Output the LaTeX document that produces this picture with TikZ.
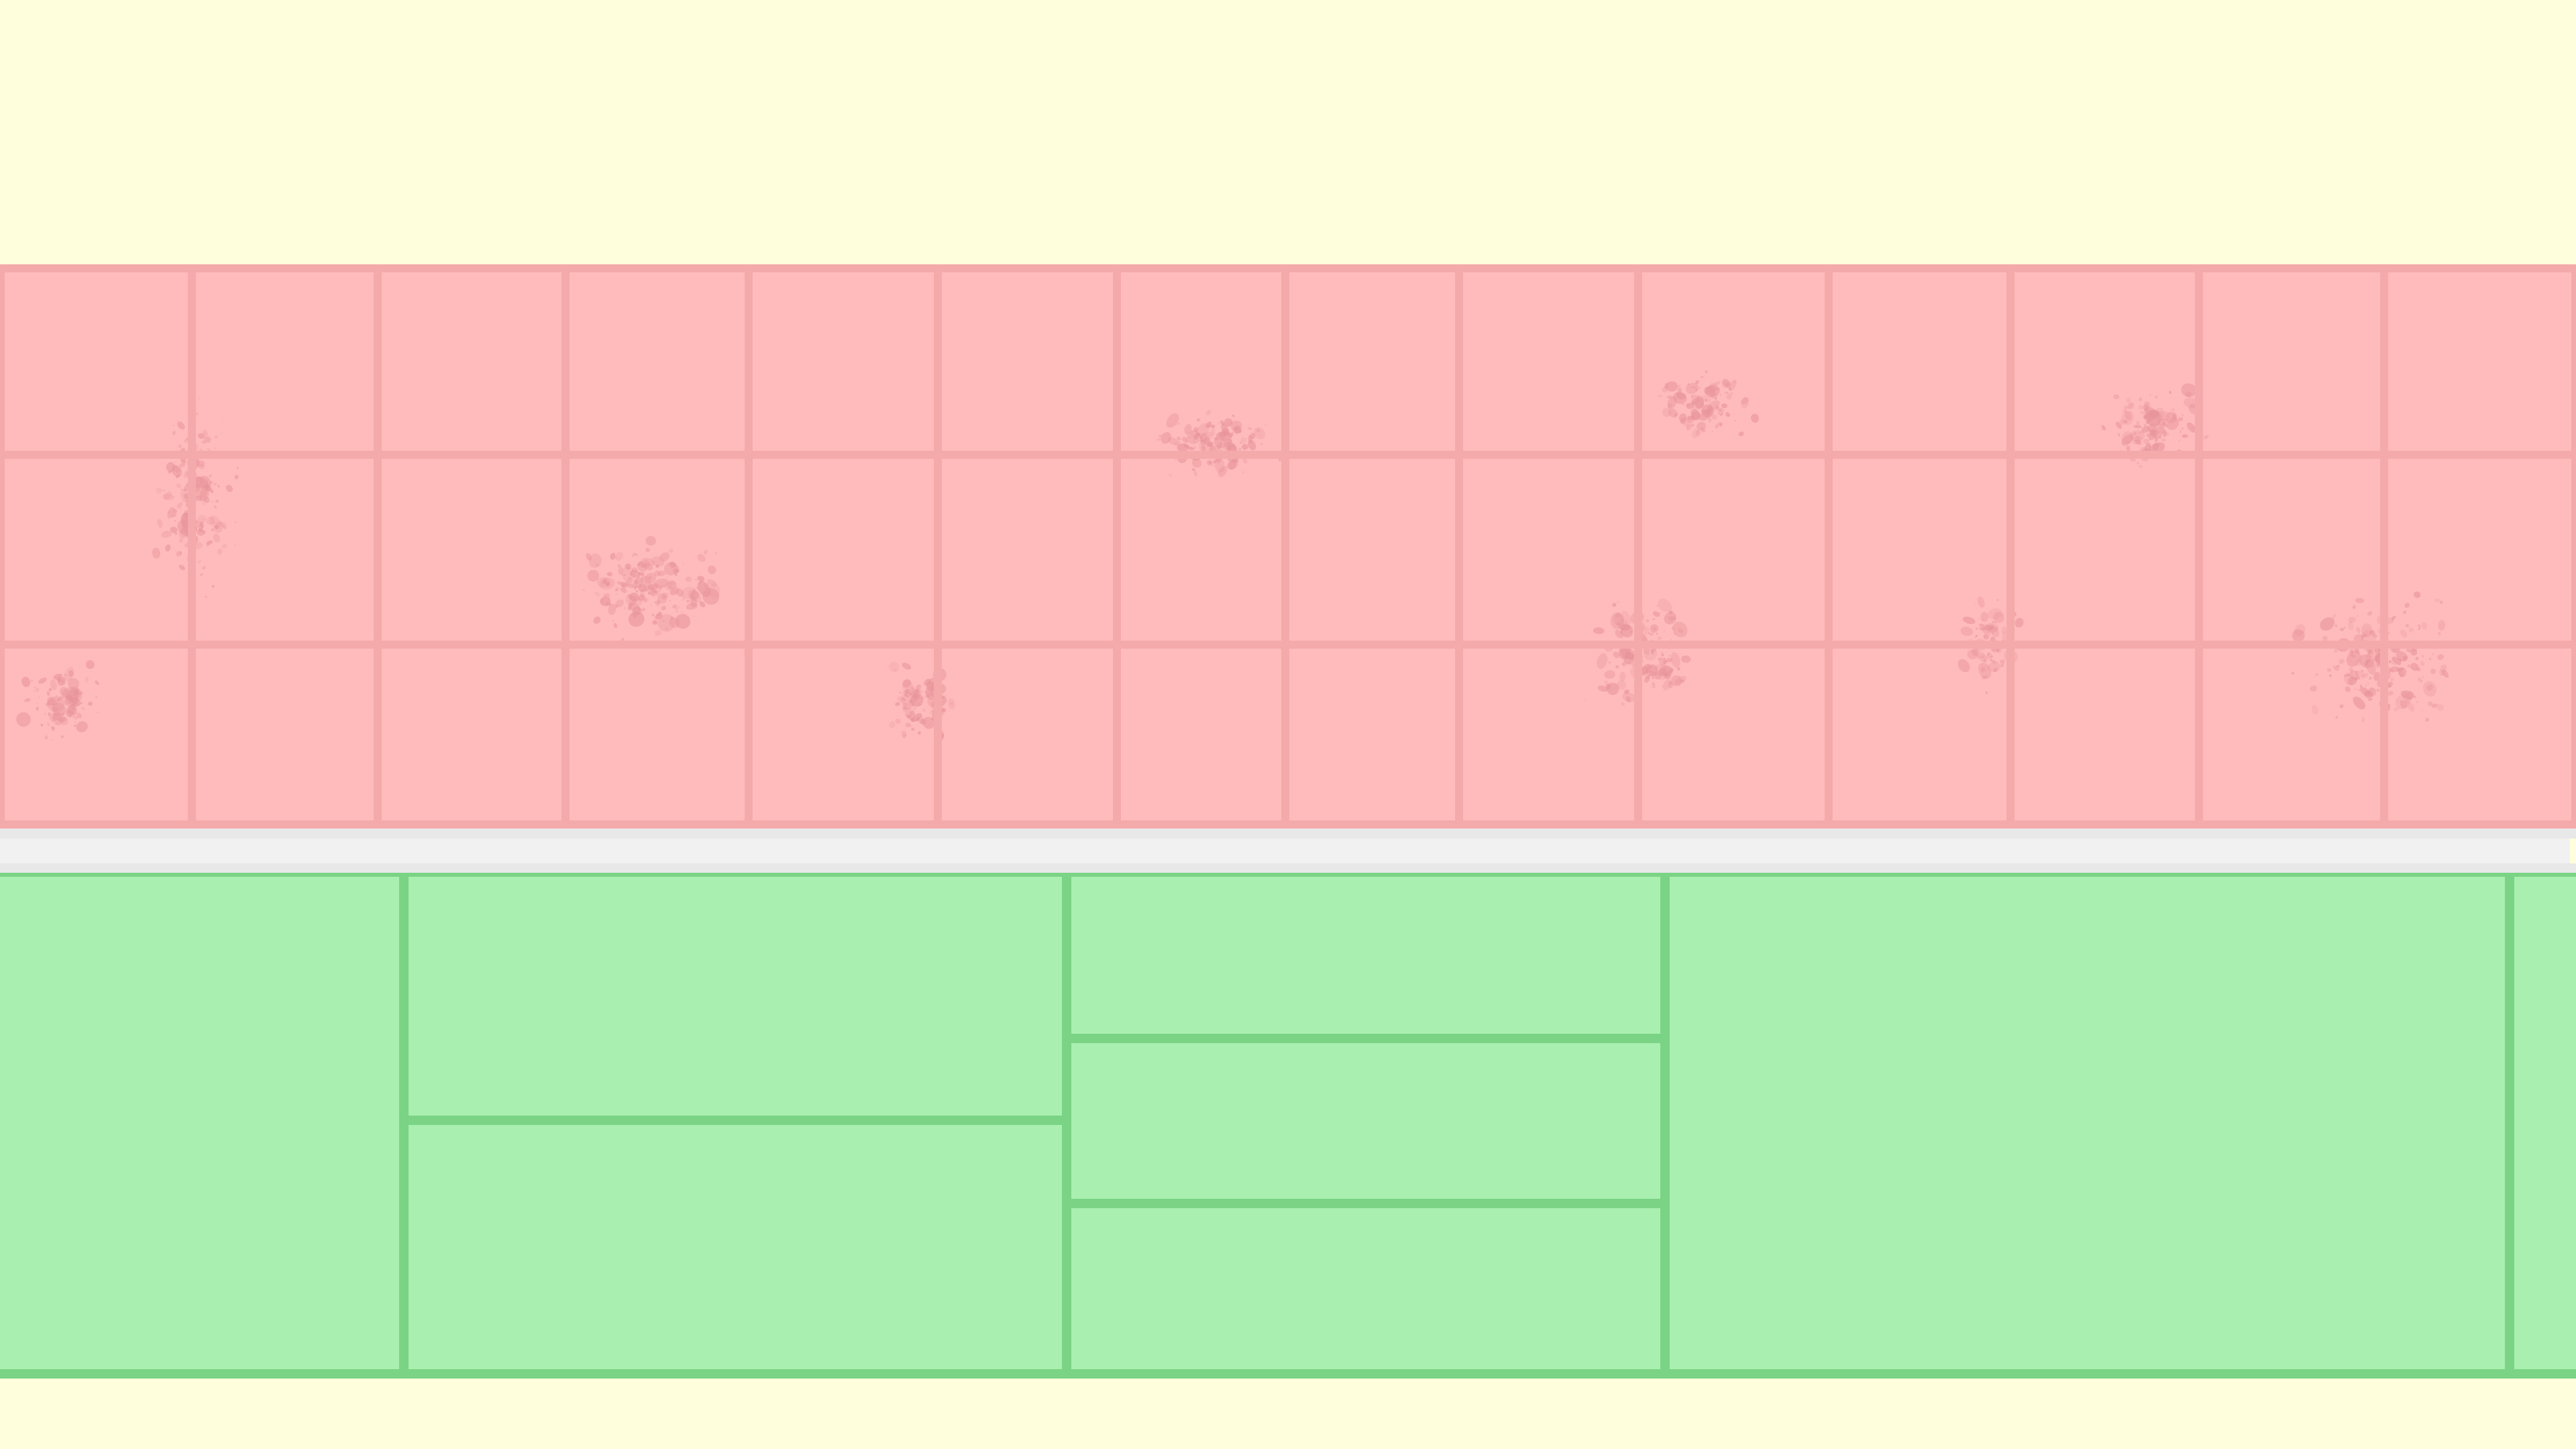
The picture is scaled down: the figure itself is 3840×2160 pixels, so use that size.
\documentclass[tikz,border=0pt]{standalone}
\definecolor{cream}{HTML}{FFFEDC}
\definecolor{tile}{HTML}{FFBBBB}
\definecolor{grout}{HTML}{F4AAAA}
\definecolor{splatc}{HTML}{E8949A}
\definecolor{counterout}{HTML}{E8E8E8}
\definecolor{counterin}{HTML}{F1F1F1}
\definecolor{cabfill}{HTML}{A9F0B0}
\definecolor{cabline}{HTML}{7BD385}
\tikzset{
  groutline/.style={draw=grout, line width=2.4pt},
  cabinetline/.style={draw=cabline, line width=2.8pt, line cap=rect},
  splatblob/.style={fill=splatc},
}
\newcommand\splatcluster[6]{%
  \pgfmathsetseed{#1}%
  \foreach \k in {1,...,#6}{%
    \pgfmathsetmacro\spx{#2+(rnd+rnd+rnd-1.5)*#4}%
    \pgfmathsetmacro\spy{#3+(rnd+rnd+rnd-1.5)*#5}%
    \pgfmathsetmacro\spr{0.3+2.6*rnd*rnd}%
    \pgfmathsetmacro\spq{\spr*(0.5+0.5*rnd)}%
    \pgfmathsetmacro\spa{360*rnd}%
    \pgfmathsetmacro\spo{0.2+0.4*rnd}%
    \fill[splatblob, opacity=\spo, rotate around={\spa:(\spx,\spy)}]
      (\spx,\spy) ellipse [x radius=\spr pt, y radius=\spq pt];
  }}
\begin{document}
\begin{tikzpicture}[x=0.2pt, y=-0.2pt]
\useasboundingbox (0,0) rectangle (3840,2160);
% background
\fill[cream] (0,0) rectangle (3840,2160);
% tile band
\fill[tile] (0,394) rectangle (3840,1235);
% splatters
\splatcluster{11}{292}{740}{50}{110}{160}
\splatcluster{12}{88}{1045}{50}{45}{100}
\splatcluster{13}{975}{880}{85}{55}{190}
\splatcluster{14}{1375}{1048}{45}{50}{100}
\splatcluster{15}{1812}{660}{70}{40}{130}
\splatcluster{16}{2540}{605}{60}{42}{110}
\splatcluster{17}{2448}{965}{60}{85}{140}
\splatcluster{18}{2965}{960}{38}{60}{80}
\splatcluster{19}{3205}{635}{60}{50}{120}
\splatcluster{20}{3545}{990}{95}{80}{200}
% grout
\foreach \gx in {286,563,843,1116,1398,1665,1916,2175,2442,2726,2997,3278,3554}
  \draw[groutline] (\gx,394) -- (\gx,1235);
\draw[groutline] (0,678) -- (3840,678);
\draw[groutline] (0,961) -- (3840,961);
\fill[grout] (0,394) rectangle (3840,406);
\fill[grout] (0,1223) rectangle (3840,1235);
\fill[grout] (0,394) rectangle (7,1235);
\fill[grout] (3833,394) rectangle (3840,1235);
% cabinets
\fill[cabfill] (0,1300) rectangle (3840,2048);
\draw[cabinetline] (-20,1300) -- (3860,1300);
\draw[cabinetline] (-20,2048) -- (3860,2048);
\foreach \cx in {602,1590,2482,3741}
  \draw[cabinetline] (\cx,1300) -- (\cx,2048);
\draw[cabinetline] (602,1670) -- (1590,1670);
\draw[cabinetline] (1590,1548) -- (2482,1548);
\draw[cabinetline] (1590,1794) -- (2482,1794);
% counter
\fill[counterout] (0,1235) rectangle (3840,1301);
\fill[counterin] (0,1250) rectangle (3831,1287);
\fill[cream] (3831,1250) rectangle (3840,1287);
\end{tikzpicture}
\end{document}
